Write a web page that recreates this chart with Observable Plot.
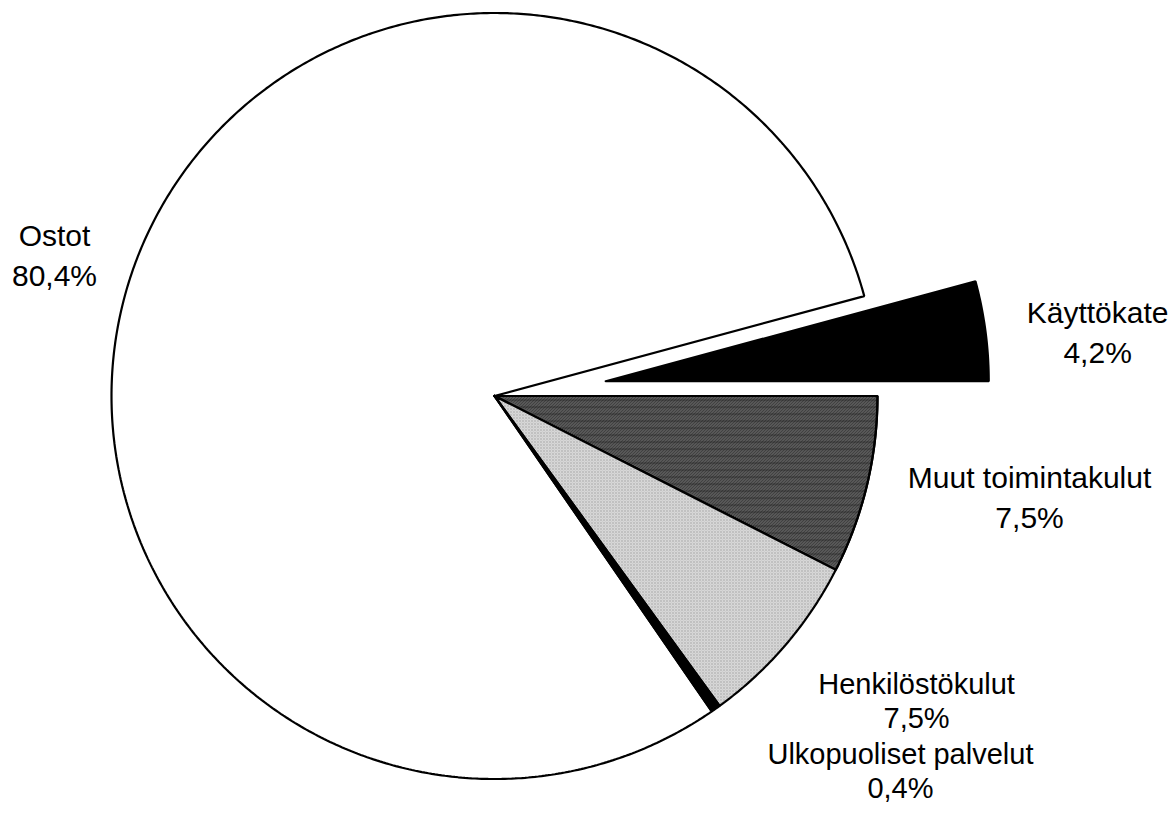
<!DOCTYPE html>
<html><head><meta charset="utf-8">
<script src="https://cdn.jsdelivr.net/npm/d3@7"></script>
<script src="https://cdn.jsdelivr.net/npm/@observablehq/plot@0.6"></script>
<style>body{margin:0;background:#fff} #chart svg{display:block}</style>
</head><body><div id="chart"></div>
<script>
// ---- data ----
const categories = ["Käyttökate", "Ostot", "Ulkopuoliset palvelut", "Henkilöstökulut", "Muut toimintakulut"];
const shares = [4.2, 80.4, 0.4, 7.5, 7.5];
const valueLabels = ["4,2%", "80,4%", "0,4%", "7,5%", "7,5%"];
const exploded = [true, false, false, false, false];

// ---- layout / style ----
const fills = ["black", "white", "black", "url(#dots)", "url(#hatch)"];
const labelAngle = [6.2, 162.0, -42.69, -35.81, -10.54];   // degrees, ccw from east
const labelRadius = [1.584, 1.208, 1.442, 1.359, 1.421];    // in pie radii
const tightLabel = [false, false, true, true, false];
const explodeOffset = 0.293;
const W = 1174, H = 813, R = 383, cx = 494, cy = 395.5;

const total = d3.sum(shares);
const ends = d3.cumsum(shares);
const slices = categories.map((name, i) => {
  const a0 = (ends[i] - shares[i]) / total * 2 * Math.PI;
  const a1 = ends[i] / total * 2 * Math.PI;
  const mid = (a0 + a1) / 2;
  const ox = exploded[i] ? explodeOffset * Math.cos(mid) : 0;
  const oy = exploded[i] ? explodeOffset * Math.sin(mid) : 0;
  const n = Math.max(4, Math.ceil((a1 - a0) / (Math.PI / 360)));
  const pts = [{x: ox, y: oy}];
  for (let k = 0; k <= n; k++) {
    const a = a0 + (a1 - a0) * k / n;
    pts.push({x: ox + Math.cos(a), y: oy + Math.sin(a)});
  }
  pts.push({x: ox, y: oy});
  return {name, pts, fill: fills[i]};
});

const labels = categories.map((name, i) => {
  const a = labelAngle[i] * Math.PI / 180;
  return {x: labelRadius[i] * Math.cos(a), y: labelRadius[i] * Math.sin(a), text: name + "\n" + valueLabels[i], tight: tightLabel[i]};
});

const order = [1, 4, 3, 2, 0];
const marks = [];
for (const i of order) {
  const s = slices[i];
  marks.push(Plot.line(s.pts, {x: "x", y: "y", fill: s.fill, stroke: "black", strokeWidth: 2.2, curve: "linear", strokeLinejoin: "miter"}));
  if (i === 4) marks.push(Plot.line(s.pts, {x: "x", y: "y", fill: "url(#hlines)", stroke: "black", strokeWidth: 2.2, curve: "linear", strokeLinejoin: "miter"}));
}
marks.push(Plot.text(labels.filter(d => !d.tight), {x: "x", y: "y", text: "text", fontSize: 30, lineHeight: 1.33, fill: "black", textAnchor: "middle"}));
marks.push(Plot.text(labels.filter(d => d.tight), {x: "x", y: "y", text: "text", fontSize: 29, lineHeight: 1.17, fill: "black", textAnchor: "middle"}));

const chart = Plot.plot({
  width: W, height: H, margin: 0,
  x: {domain: [-cx / R, (W - cx) / R], axis: null},
  y: {domain: [-(H - cy) / R, cy / R], axis: null},
  style: {fontFamily: "'Liberation Sans', Arial, sans-serif", background: "white"},
  marks
});

const defs = d3.select(chart).insert("defs", ":first-child");
const hatch = defs.append("pattern").attr("id", "hatch").attr("patternUnits", "userSpaceOnUse").attr("width", 3).attr("height", 3);
hatch.append("rect").attr("width", 3).attr("height", 3).attr("fill", "#6e6e6e");
hatch.append("path").attr("d", "M-1,1L1,-1M0,3L3,0M2,4L4,2").attr("stroke", "#141414").attr("stroke-width", 1);
const hl = defs.append("pattern").attr("id", "hlines").attr("patternUnits", "userSpaceOnUse").attr("width", 8).attr("height", 7);
hl.append("rect").attr("y", 0).attr("width", 8).attr("height", 1.2).attr("fill", "#111").attr("fill-opacity", 0.45);
const dots = defs.append("pattern").attr("id", "dots").attr("patternUnits", "userSpaceOnUse").attr("width", 3).attr("height", 3);
dots.append("rect").attr("width", 3).attr("height", 3).attr("fill", "#e0e0e0");
dots.append("rect").attr("width", 1).attr("height", 1).attr("fill", "#777");
dots.append("rect").attr("x", 1.5).attr("y", 1.5).attr("width", 1).attr("height", 1).attr("fill", "#9a9a9a");

document.getElementById("chart").append(chart);
</script>
</body></html>
